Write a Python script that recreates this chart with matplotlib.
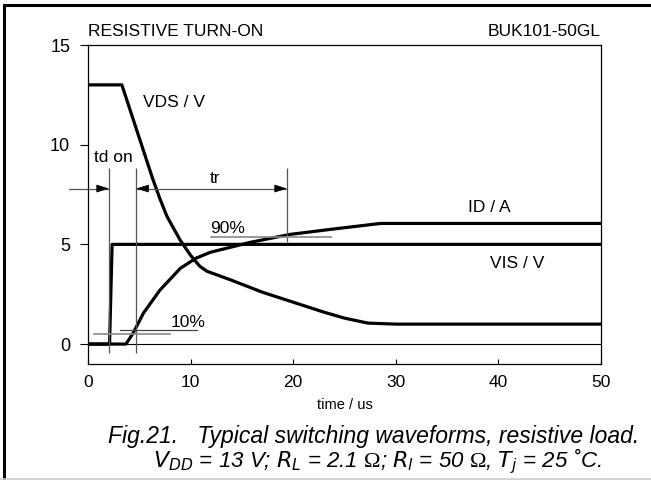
import matplotlib
matplotlib.use('Agg')
import matplotlib.pyplot as plt
from matplotlib.lines import Line2D

plt.rcParams['font.family'] = ['Liberation Sans', 'DejaVu Sans']
plt.rcParams['mathtext.fontset'] = 'custom'
plt.rcParams['mathtext.it'] = 'Liberation Sans Narrow:italic'
plt.rcParams['mathtext.rm'] = 'Liberation Serif'

# waveform data (time in us)
vds_t = [0, 3.3, 6.3, 7.0, 7.7, 8.4, 9.0, 10.0, 10.9, 11.6, 14, 17, 20, 23, 25, 27.3, 30, 50]
vds_v = [13, 13, 8.3, 7.3, 6.4, 5.75, 5.2, 4.45, 3.9, 3.65, 3.2, 2.6, 2.1, 1.6, 1.3, 1.05, 1.0, 1.0]

id_t = [0, 3.7, 4.4, 5.4, 7.0, 9.0, 10.5, 11.9, 15.8, 19.7, 23.6, 28.5, 50]
id_a = [0, 0, 0.55, 1.55, 2.7, 3.8, 4.3, 4.6, 5.1, 5.5, 5.75, 6.05, 6.05]

vis_t = [0, 2.1, 2.35, 50]
vis_v = [0, 0, 5.0, 5.0]

xticks = [0, 10, 20, 30, 40, 50]
yticks = [0, 5, 10, 15]

fig = plt.figure(figsize=(6.51, 4.80), dpi=100)
ax = fig.add_axes([88 / 651, 1 - 364 / 480, 513 / 651, 319 / 480])

ax.axhline(0, color='black', lw=0.8)
ax.plot(vds_t, vds_v, color='black', lw=2.3, solid_joinstyle='round')
ax.plot(id_t, id_a, color='black', lw=2.3, solid_joinstyle='round')
ax.plot(vis_t, vis_v, color='black', lw=2.3)

# timing markers
grey = '#555555'
ax.vlines([2.05, 4.7], -0.45, 8.85, color=grey, lw=0.9)
ax.vlines(19.4, 5.1, 8.85, color=grey, lw=0.9)
ax.plot([-1.85, 2.05], [7.8, 7.8], color=grey, lw=0.9, clip_on=False)
ax.plot([4.7, 19.4], [7.8, 7.8], color=grey, lw=0.9)
head = dict(arrowstyle='-|>,head_length=0.8,head_width=0.25', color='black', lw=0.5,
            shrinkA=0, shrinkB=0, mutation_scale=10)
ax.annotate('', xy=(2.05, 7.8), xytext=(1.0, 7.8), arrowprops=head)
ax.annotate('', xy=(4.7, 7.8), xytext=(5.8, 7.8), arrowprops=head)
ax.annotate('', xy=(19.4, 7.8), xytext=(18.3, 7.8), arrowprops=head)

# 10% / 90% levels
ax.plot([0.6, 8.0], [0.5, 0.5], color='#888888', lw=1.2)
ax.plot([3.1, 10.6], [0.7, 0.7], color='#444444', lw=0.9)
ax.plot([12.0, 23.7], [5.35, 5.35], color='#888888', lw=1.2)

fs = 12.5
ax.text(2.5, 9.35, 'td on', fontsize=fs, ha='center', va='center')
ax.text(12.4, 8.3, 'tr', fontsize=fs, ha='center', va='center')
ax.text(5.4, 12.1, 'VDS / V', fontsize=fs, ha='left', va='center')
ax.text(11.9, 5.8, '90%', fontsize=fs, ha='left', va='center')
ax.text(8.1, 1.1, '10%', fontsize=fs, ha='left', va='center')
ax.text(37.0, 6.85, 'ID / A', fontsize=fs, ha='left', va='center')
ax.text(39.2, 4.05, 'VIS / V', fontsize=fs, ha='left', va='center')
ax.text(0, 15.3, 'RESISTIVE TURN-ON', fontsize=fs, ha='left', va='bottom')
ax.text(50, 15.3, 'BUK101-50GL', fontsize=fs, ha='right', va='bottom')

ax.set_xlim(0, 50)
ax.set_ylim(-1, 15)
ax.set_xticks(xticks)
ax.set_yticks(yticks)
ax.tick_params(axis='x', direction='in', length=3.6, width=0.8, labelsize=12.5, pad=8)
ax.tick_params(axis='y', direction='out', length=5.8, width=0.8, labelsize=13, pad=7)
for s in ax.spines.values():
    s.set_linewidth(0.9)
ax.set_xlabel('time / us', fontsize=10.5, labelpad=6)

# caption
cap = dict(style='italic', family=['Liberation Sans Narrow', 'Liberation Sans', 'DejaVu Sans'],
           ha='center', va='baseline')
fig.text(374 / 651, 1 - 443 / 480, 'Fig.21.   Typical switching waveforms, resistive load.',
         fontsize=16.5, **cap)
fig.text(377 / 651, 1 - 467 / 480,
         r'$V_{DD}$ = 13 V; $R_L$ = 2.1 $\Omega$; $R_l$ = 50 $\Omega$, $T_j$ = 25 ˚C.',
         fontsize=16, **cap)

# page frame
fig.add_artist(Line2D([4 / 651, 4 / 651], [0, 1 - 5 / 480], transform=fig.transFigure, color='black', lw=2.2))
fig.add_artist(Line2D([4 / 651, 1], [1 - 5 / 480, 1 - 5 / 480], transform=fig.transFigure, color='black', lw=2.2))
fig.add_artist(Line2D([0, 1], [1 / 480, 1 / 480], transform=fig.transFigure, color='#cccccc', lw=1.2))

fig.savefig('out.png', dpi=100)
